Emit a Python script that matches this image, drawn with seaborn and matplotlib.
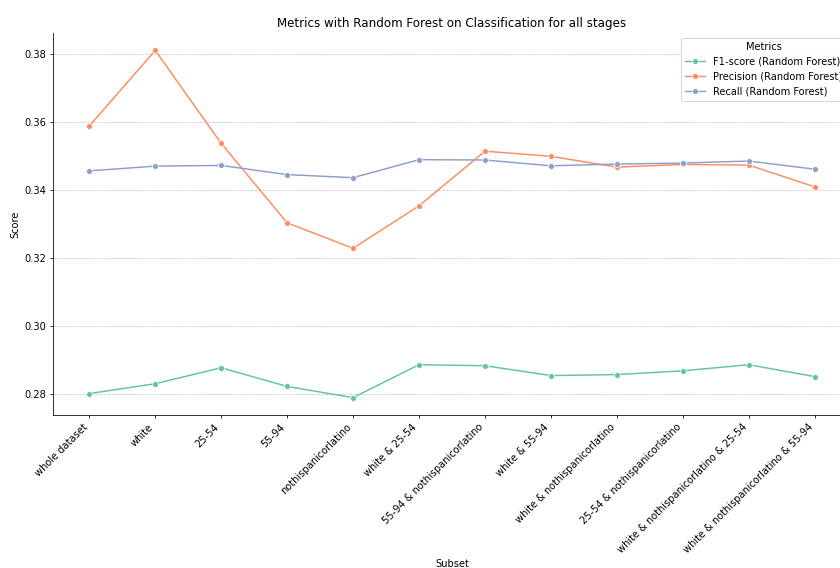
import matplotlib
matplotlib.use("Agg")
import matplotlib.pyplot as plt
import seaborn as sns
import pandas as pd

subsets = [
    "whole dataset", "white", "25-54", "55-94", "nothispanicorlatino",
    "white & 25-54", "55-94 & nothispanicorlatino", "white & 55-94",
    "white & nothispanicorlatino", "25-54 & nothispanicorlatino",
    "white & nothispanicorlatino & 25-54", "white & nothispanicorlatino & 55-94",
]
f1_score = [0.2800, 0.2829, 0.2876, 0.2821, 0.2788, 0.2885,
            0.2882, 0.2853, 0.2856, 0.2867, 0.2885, 0.2850]
precision = [0.3588, 0.3811, 0.3537, 0.3303, 0.3228, 0.3353,
             0.3514, 0.3499, 0.3467, 0.3475, 0.3473, 0.3409]
recall = [0.3456, 0.3470, 0.3472, 0.3445, 0.3436, 0.3489,
          0.3488, 0.3471, 0.3476, 0.3479, 0.3485, 0.3461]

metric_names = ["F1-score (Random Forest)", "Precision (Random Forest)", "Recall (Random Forest)"]

df = pd.DataFrame({
    "Subset": subsets * 3,
    "Score": f1_score + precision + recall,
    "Metrics": [m for m in metric_names for _ in subsets],
})

sns.set_style("ticks", {
    "axes.edgecolor": "black",
    "text.color": "black",
    "axes.labelcolor": "black",
    "xtick.color": "black",
    "ytick.color": "black",
    "grid.color": "#b0b0b0",
})
dpi = 71
fig = plt.figure(figsize=(840 / dpi, 568 / dpi), dpi=dpi)
ax = fig.add_axes([53 / 840, 1 - 415 / 568, (851 - 53) / 840, (415 - 33) / 568])

sns.lineplot(data=df, x="Subset", y="Score", hue="Metrics", hue_order=metric_names,
             palette="Set2", marker="o", ax=ax, sort=False)

ax.set_title("Metrics with Random Forest on Classification for all stages", fontsize=12)
ax.set_xlabel("Subset", fontsize=10)
ax.set_ylabel("Score", fontsize=10)
plt.setp(ax.get_xticklabels(), rotation=45, ha="right")
ax.grid(axis="y", linestyle="--", alpha=0.7)
sns.despine(ax=ax)
ax.legend(title="Metrics", loc="upper right")

fig.savefig("out.png", dpi=dpi)
